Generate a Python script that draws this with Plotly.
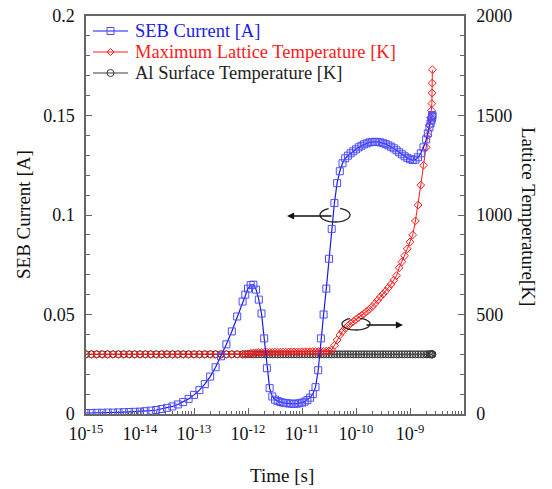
import math
import plotly.graph_objects as go

# ---------------- data ----------------
log10_time = [
    -15.0, -14.9, -14.8, -14.7, -14.6, -14.5, -14.4, -14.3, -14.2, -14.1,
    -14.0, -13.9, -13.8, -13.7, -13.6, -13.5, -13.4, -13.3, -13.2, -13.1,
    -13.0, -12.9, -12.8, -12.7, -12.6, -12.5, -12.4, -12.3, -12.2, -12.1,
    -12.05, -12.00, -11.95, -11.90, -11.85, -11.80, -11.75, -11.70, -11.65, -11.60,
    -11.55, -11.50, -11.45, -11.40, -11.35, -11.30, -11.25, -11.20, -11.15, -11.10,
    -11.05, -11.00, -10.95, -10.90, -10.85, -10.80, -10.75, -10.70, -10.65, -10.60,
    -10.55, -10.50, -10.45, -10.40, -10.35, -10.30, -10.25, -10.20, -10.15, -10.10,
    -10.05, -10.00, -9.95, -9.90, -9.85, -9.80, -9.75, -9.70, -9.65, -9.60,
    -9.55, -9.50, -9.45, -9.40, -9.35, -9.30, -9.25, -9.20, -9.15, -9.10,
    -9.05, -9.00, -8.95, -8.90, -8.85, -8.80, -8.75, -8.70,
    -8.67, -8.64, -8.62, -8.605, -8.595, -8.59, -8.588, -8.586,
]
time_s = [10 ** v for v in log10_time]

seb_current = [
    0.0005, 0.0005, 0.0006, 0.0006, 0.0007, 0.0007, 0.0008, 0.0009, 0.0010, 0.0011,
    0.0012, 0.0014, 0.0017, 0.0020, 0.0025, 0.0031, 0.0038, 0.0048, 0.0060, 0.0076,
    0.0096, 0.0120, 0.0150, 0.0188, 0.0235, 0.0290, 0.0350, 0.0415, 0.0490, 0.0565,
    0.0600, 0.0630, 0.0648, 0.0650, 0.0625, 0.0575, 0.0505, 0.0380, 0.0230, 0.0130,
    0.0088, 0.0072, 0.0065, 0.0060, 0.0057, 0.0055, 0.0053, 0.0052, 0.0051, 0.0052,
    0.0054, 0.0057, 0.0062, 0.0070, 0.0082, 0.0100, 0.0135, 0.0220, 0.0380, 0.0500,
    0.0630, 0.0780, 0.0930, 0.1060, 0.1160, 0.1220, 0.1260, 0.1285, 0.1298, 0.1310,
    0.1320, 0.1330, 0.1340, 0.1348, 0.1355, 0.1360, 0.1365, 0.1367, 0.1368, 0.1367,
    0.1365, 0.1361, 0.1356, 0.1350, 0.1343, 0.1335, 0.1325, 0.1315, 0.1305, 0.1295,
    0.1287, 0.1280, 0.1276, 0.1278, 0.1290, 0.1310, 0.1340, 0.1380,
    0.1410, 0.1440, 0.1460, 0.1475, 0.1485, 0.1492, 0.1498, 0.1502,
]

max_lattice_temp = [
    300, 300, 300, 300, 300, 300, 300, 300, 300, 300,
    300, 300, 300, 300, 300, 300, 300, 300, 300, 300,
    300, 300, 300, 300, 300, 300, 300, 300, 300, 300,
    300, 302, 305, 307, 308, 309, 309, 310, 310, 310,
    310, 311, 311, 311, 311, 311, 312, 312, 312, 312,
    312, 313, 313, 313, 313, 314, 314, 314, 315, 315,
    316, 317, 322, 345, 372, 397, 415, 430, 443, 455,
    465, 475, 485, 495, 505, 515, 527, 540, 555, 572,
    588, 603, 618, 635, 652, 672, 695, 735, 765, 795,
    830, 865, 900, 970, 1050, 1150, 1250, 1340,
    1400, 1450, 1490, 1525, 1560, 1613, 1663, 1730,
]

al_surface_temp = [
    300, 300, 300, 300, 300, 300, 300, 300, 300, 300,
    300, 300, 300, 300, 300, 300, 300, 300, 300, 300,
    300, 300, 300, 300, 300, 300, 300, 300, 300, 300,
    300, 300, 300, 300, 300, 300, 300, 300, 300, 300,
    300, 300, 300, 300, 300, 300, 300, 300, 300, 300,
    300, 300, 300, 300, 300, 300, 300, 300, 300, 300,
    300, 300, 300, 300, 300, 300, 300, 300, 300, 300,
    300, 300, 300, 300, 300, 300, 300, 300, 300, 300,
    300, 300, 300, 300, 300, 300, 300, 300, 300, 300,
    300, 300, 300, 300, 300, 300, 300, 300,
    300, 300, 300, 300, 300, 300, 300, 300,
]

assert len(log10_time) == len(seb_current) == len(max_lattice_temp) == len(al_surface_temp)

series_names = ["SEB Current [A]", "Maximum Lattice Temperature [K]", "Al Surface Temperature [K]"]
x_tick_values = [1e-15, 1e-14, 1e-13, 1e-12, 1e-11, 1e-10, 1e-9]
x_tick_text = ["10<sup>-15</sup>", "10<sup>-14</sup>", "10<sup>-13</sup>", "10<sup>-12</sup>",
               "10<sup>-11</sup>", "10<sup>-10</sup>", "10<sup>-9</sup>"]
x_title = "Time [s]"
y_left_title = "SEB Current [A]"
y_right_title = "Lattice Temperature[K]"

# ---------------- layout geometry ----------------
W, H = 552, 489
ML, MR, MT, MB = 86, 88, 16, 75
PW = W - ML - MR
PH = H - MT - MB


def px(x):
    return (x - ML) / PW


def py(y):
    return (H - MB - y) / PH


FONT = "Liberation Serif"
BLUE = "#1a1ae6"
BLUE_M = "#4d4dff"
RED = "#ff1a1a"
BLACK = "#3a3a3a"
AXIS = "#666666"
colors_line = [BLUE, RED, BLACK]
colors_marker = [BLUE_M, RED, BLACK]
colors_text = ["#1a1ae6", "#ff1a1a", "#222222"]

fig = go.Figure()

fig.add_trace(go.Scatter(
    x=time_s, y=al_surface_temp, yaxis="y", mode="lines+markers",
    name=series_names[2], showlegend=False,
    line=dict(color=BLACK, width=1),
    marker=dict(symbol="circle-open", size=7, color=BLACK, line=dict(width=1, color=BLACK)),
))
fig.add_trace(go.Scatter(
    x=time_s, y=max_lattice_temp, yaxis="y", mode="lines+markers",
    name=series_names[1], showlegend=False,
    line=dict(color=RED, width=1),
    marker=dict(symbol="diamond-open", size=6, color=RED, line=dict(width=1, color=RED)),
))
fig.add_trace(go.Scatter(
    x=time_s, y=seb_current, yaxis="y2", mode="lines+markers",
    name=series_names[0], showlegend=False,
    line=dict(color=BLUE, width=1.2),
    marker=dict(symbol="square-open", size=7, color=BLUE_M, line=dict(width=1, color=BLUE_M)),
))

tickfont = dict(family=FONT, size=18, color="#111111")

fig.update_layout(
    width=W, height=H,
    margin=dict(l=ML, r=MR, t=MT, b=MB, pad=0),
    paper_bgcolor="white", plot_bgcolor="white",
    font=dict(family=FONT, size=18, color="#111111"),
    showlegend=False,
    xaxis=dict(
        type="log", range=[-15, -8], tickvals=x_tick_values, ticktext=x_tick_text,
        showline=True, mirror=True, linecolor=AXIS, linewidth=1.5,
        ticks="inside", ticklen=6, tickcolor=AXIS, tickwidth=1,
        minor=dict(dtick="D1", ticks="inside", ticklen=3, tickcolor=AXIS, tickwidth=1, showgrid=False),
        showgrid=False, zeroline=False, tickfont=tickfont, ticklabelstandoff=3,
        automargin=False,
    ),
    yaxis=dict(
        side="right", range=[0, 2000], dtick=500,
        showline=True, linecolor=AXIS, linewidth=1.5,
        ticks="inside", ticklen=6, tickcolor=AXIS, tickwidth=1,
        minor=dict(dtick=100, ticks="inside", ticklen=4, tickcolor=AXIS, tickwidth=1, showgrid=False),
        showgrid=False, zeroline=False, tickfont=tickfont, ticklabelstandoff=7,
        automargin=False,
    ),
    yaxis2=dict(
        overlaying="y", side="left", range=[0, 0.2], dtick=0.05,
        showline=True, linecolor=AXIS, linewidth=1.5,
        ticks="inside", ticklen=6, tickcolor=AXIS, tickwidth=1,
        minor=dict(dtick=0.01, ticks="inside", ticklen=4, tickcolor=AXIS, tickwidth=1, showgrid=False),
        showgrid=False, zeroline=False, tickfont=tickfont, ticklabelstandoff=6,
        automargin=False,
    ),
)

ann = []
ann.append(dict(x=px(282), y=py(475), xref="paper", yref="paper", text=x_title,
                xanchor="center", yanchor="middle",
                showarrow=False, font=dict(family=FONT, size=19, color="#111111")))
ann.append(dict(x=px(23), y=py(215), xref="paper", yref="paper", text=y_left_title,
                xanchor="center", yanchor="middle",
                textangle=-90, showarrow=False, font=dict(family=FONT, size=19, color="#111111")))
ann.append(dict(x=px(528), y=py(216), xref="paper", yref="paper", text=y_right_title,
                xanchor="center", yanchor="middle",
                textangle=90, showarrow=False, font=dict(family=FONT, size=19, color="#111111")))
# direction arrows
ann.append(dict(x=px(287), y=py(216), xref="paper", yref="paper", text="",
                showarrow=True, ax=46, ay=0, arrowhead=2, arrowsize=1.1, arrowwidth=1.3,
                arrowcolor="#111111"))
ann.append(dict(x=px(403), y=py(325), xref="paper", yref="paper", text="",
                showarrow=True, ax=-38, ay=0, arrowhead=2, arrowsize=1.1, arrowwidth=1.3,
                arrowcolor="#111111"))

# manual legend (decoration): line sample + symbol + coloured text
legend_rows_y = [31, 52, 73]
for i, name in enumerate(series_names):
    yy = legend_rows_y[i]
    ann.append(dict(x=px(133), y=py(yy), xref="paper", yref="paper", text=name,
                    xanchor="left", yanchor="middle", showarrow=False,
                    font=dict(family=FONT, size=18.5, color=colors_text[i])))
    fig.add_shape(type="line", xref="paper", yref="paper",
                  x0=px(93), x1=px(128), y0=py(yy), y1=py(yy),
                  line=dict(color=colors_line[i], width=1.2))
    if i == 0:
        fig.add_shape(type="rect", xref="paper", yref="paper", xsizemode="pixel", ysizemode="pixel",
                      xanchor=px(110.5), yanchor=py(yy), x0=-3.5, x1=3.5, y0=-3.5, y1=3.5,
                      line=dict(color=colors_marker[i], width=1), fillcolor="rgba(0,0,0,0)")
    elif i == 1:
        fig.add_shape(type="path", xref="paper", yref="paper", xsizemode="pixel", ysizemode="pixel",
                      xanchor=px(110.5), yanchor=py(yy), path="M -3.5,0 L 0,3.5 L 3.5,0 L 0,-3.5 Z",
                      line=dict(color=colors_marker[i], width=1), fillcolor="rgba(0,0,0,0)")
    else:
        fig.add_shape(type="circle", xref="paper", yref="paper", xsizemode="pixel", ysizemode="pixel",
                      xanchor=px(110.5), yanchor=py(yy), x0=-3.5, x1=3.5, y0=-3.5, y1=3.5,
                      line=dict(color=colors_marker[i], width=1), fillcolor="rgba(0,0,0,0)")

fig.update_layout(annotations=ann)


def loop_path(cx, cy, rx, ry, gap_start, gap_end):
    # open ellipse (decoration) drawn in paper coordinates
    pts = []
    n = 40
    a0 = math.radians(gap_end)
    a1 = math.radians(gap_start + 360)
    for k in range(n + 1):
        a = a0 + (a1 - a0) * k / n
        pts.append((px(cx + rx * math.cos(a)), py(cy - ry * math.sin(a))))
    d = "M %.5f,%.5f " % pts[0] + " ".join("L %.5f,%.5f" % p for p in pts[1:])
    return d


for cx, cy, rx, ry in [(335, 215, 15, 7), (356, 324, 14, 6)]:
    fig.add_shape(type="path", xref="paper", yref="paper",
                  path=loop_path(cx, cy, rx, ry, 70, 115),
                  line=dict(color="#222222", width=1.3))

fig.write_html("out.html", config={"displayModeBar": False},
               post_script="document.body.style.margin='0px';")
